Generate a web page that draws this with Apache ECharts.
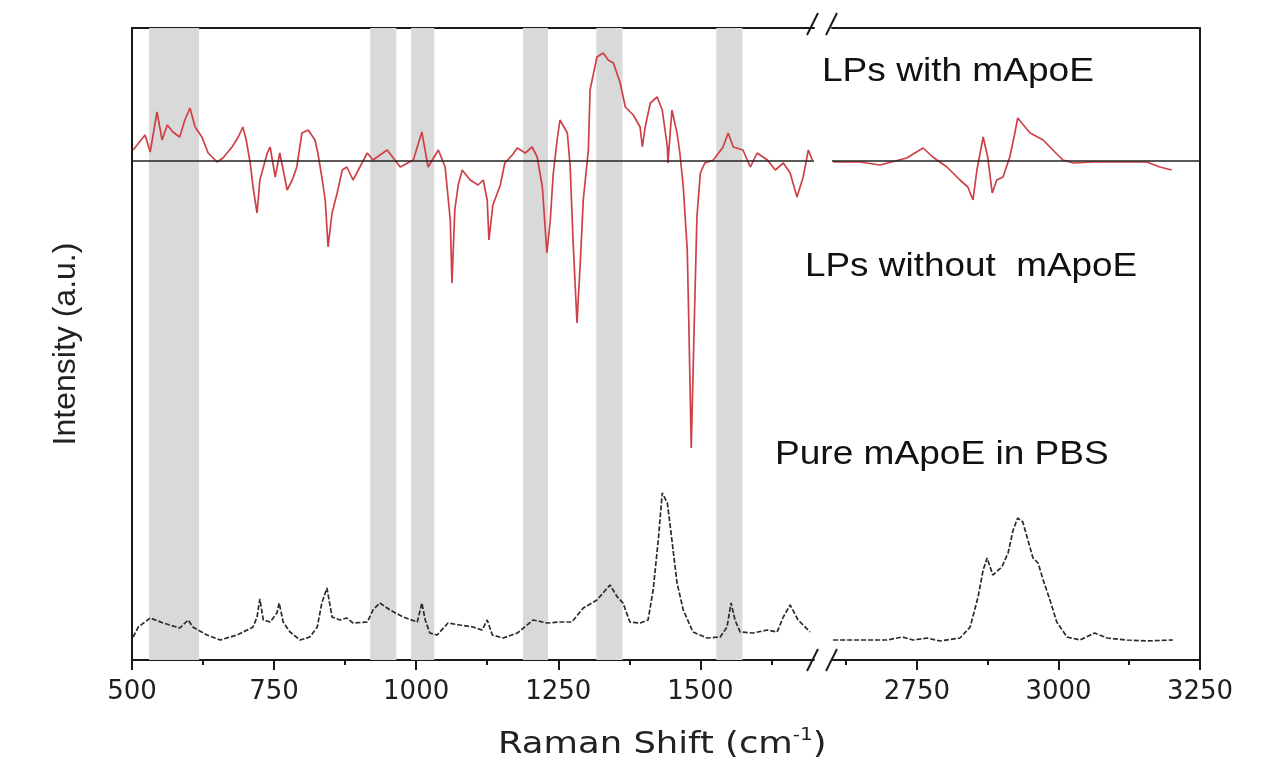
<!DOCTYPE html>
<html><head><meta charset="utf-8">
<script src="https://cdn.jsdelivr.net/npm/echarts@6/dist/echarts.min.js"></script>
<style>html,body{margin:0;padding:0;background:#fff}#c{width:1282px;height:766px}</style>
</head><body><div id="c"></div>
<script>
// ---- data: [Raman shift (cm-1), intensity (a.u.)] ----
// difference spectrum "LPs with mApoE" (relative to its zero line), low-wavenumber part
const lpsLow = [[502,2.2],[523,5.2],[532,1.8],[544,9.8],[553,4.2],[562,7.2],[572,5.8],[584,4.8],[593,8.2],[602,10.6],[611,6.8],[623,4.8],[634,1.6],[650,-0.2],[660,0.6],[676,2.8],[687,4.8],[695,6.8],[701,4.2],[708,-0.4],[713,-5.2],[720,-10.4],[725,-3.8],[738,1.6],[743,2.8],[752,-3.2],[760,1.6],[773,-5.8],[782,-3.8],[790,-1.2],[799,5.6],[810,6.2],[822,4.2],[827,1.6],[834,-3.2],[840,-7.8],[845,-17.2],[852,-10.4],[861,-6.4],[870,-1.8],[878,-1.2],[889,-3.8],[901,-1.2],[914,1.6],[924,0.2],[949,2.2],[972,-1.2],[995,0.2],[1010,5.8],[1021,-1.2],[1039,2.2],[1051,-1.2],[1060,-11.8],[1063,-24.4],[1068,-9.8],[1074,-4.8],[1081,-1.8],[1095,-3.8],[1109,-4.8],[1118,-3.8],[1125,-7.8],[1128,-15.8],[1135,-8.8],[1148,-4.8],[1156,-0.4],[1169,1.2],[1178,2.6],[1192,1.6],[1204,2.8],[1213,0.8],[1222,-5.2],[1230,-18.4],[1236,-11.8],[1241,-2.8],[1248,4.2],[1253,8.2],[1266,5.6],[1271,-1.2],[1276,-15.8],[1283,-32.4],[1289,-19.8],[1294,-7.8],[1303,2.2],[1306,14.2],[1318,20.8],[1329,21.6],[1338,20.2],[1347,19.6],[1359,15.6],[1368,10.8],[1382,9.2],[1394,6.8],[1398,2.8],[1403,6.8],[1412,11.6],[1424,12.8],[1433,10.2],[1442,2.8],[1443,-0.4],[1450,10.2],[1459,5.6],[1464,1.6],[1470,-5.2],[1477,-17.8],[1480,-33.8],[1484,-57.4],[1489,-33.8],[1494,-11.2],[1500,-2.4],[1508,-0.4],[1523,0.2],[1540,2.8],[1549,5.6],[1558,2.8],[1575,2.2],[1588,-1.2],[1600,1.6],[1618,0.2],[1632,-1.8],[1646,-0.4],[1658,-2.4],[1670,-7.2],[1681,-3.2],[1690,2.2],[1697,0.2]];
// same, high-wavenumber part
const lpsHigh = [[2602,-0.2],[2649,-0.2],[2685,-0.8],[2732,0.6],[2761,2.6],[2778,0.8],[2803,-1.2],[2826,-3.8],[2840,-5.2],[2849,-7.8],[2856,-1.8],[2867,4.8],[2875,0.8],[2883,-6.4],[2891,-3.8],[2902,-3.2],[2914,0.8],[2923,5.6],[2928,8.6],[2941,6.8],[2950,5.6],[2973,4.2],[2990,2.2],[3008,0.2],[3026,-0.4],[3061,-0.2],[3096,-0.2],[3156,-0.2],[3179,-1.2],[3200,-1.8]];
// "Pure mApoE in PBS" spectrum, low-wavenumber part
const pureLow = [[502,0.4],[511,2.4],[532,4.2],[555,3.2],[584,2.2],[599,3.8],[607,2.4],[632,0.8],[655,-0.2],[685,0.8],[713,2.4],[720,4.4],[725,8.0],[731,3.8],[743,3.4],[755,5.2],[759,7.2],[766,3.4],[778,1.4],[796,-0.2],[813,0.4],[826,2.4],[834,7.2],[843,10.2],[852,4.4],[866,3.8],[878,4.2],[889,3.2],[914,3.4],[924,5.8],[936,7.2],[954,5.8],[977,4.4],[1002,3.4],[1010,7.2],[1016,3.8],[1024,1.2],[1037,0.8],[1056,3.2],[1077,2.8],[1100,2.4],[1116,1.8],[1125,3.8],[1134,0.8],[1153,0.2],[1178,1.2],[1206,3.8],[1230,3.2],[1253,3.4],[1274,3.4],[1294,6.2],[1318,7.8],[1341,10.8],[1354,8.4],[1364,7.2],[1376,3.4],[1394,3.2],[1408,3.8],[1417,9.8],[1426,19.8],[1433,29.2],[1442,27.2],[1450,19.8],[1459,11.2],[1470,5.8],[1487,1.4],[1512,0.2],[1535,0.4],[1547,2.4],[1554,7.2],[1561,3.8],[1570,1.4],[1593,1.2],[1618,1.8],[1635,1.4],[1646,4.4],[1658,6.8],[1672,3.8],[1693,1.4]];
// same, high-wavenumber part
const pureHigh = [[2602,-0.2],[2697,-0.2],[2724,0.4],[2743,-0.2],[2768,0.2],[2791,-0.4],[2826,0.2],[2844,2.4],[2858,8.4],[2867,13.8],[2874,16.2],[2884,12.8],[2900,14.4],[2911,17.2],[2920,21.8],[2928,24.2],[2937,23.4],[2946,19.8],[2955,16.2],[2964,15.2],[2973,11.8],[2985,7.8],[2997,3.4],[3015,0.4],[3038,-0.2],[3064,1.2],[3086,0.2],[3121,-0.2],[3156,-0.4],[3202,-0.2]];
// shaded bands (cm-1)
const bands = [[530,618],[919,965],[991,1032],[1188,1232],[1317,1363],[1528,1574]];
// axis ticks
const lowTicks = [500,750,1000,1250,1500];
const lowMinor = [625,875,1125,1375,1625];
const highTicks = [2750,3000,3250];
const highMinor = [2625,2875,3125];
const spectrumNames = ['LPs with mApoE','LPs without  mApoE','Pure mApoE in PBS'];

// ---- layout / style ----
const lowRange = [500,1700], highRange = [2600,3250];
const yRange = [0,126.4];
const lpsOffset = 99.8, pureOffset = 4.2;
const RED = '#cf4046', BLACK = '#2b2b2b', AXIS = '#1a1a1a';
const tickFont = {fontFamily:'DejaVu Sans', fontSize:26, color:'#1e1e1e'};

const shift = (arr, off) => arr.map(p => [p[0], p[1] + off]);

const chart = echarts.init(document.getElementById('c'), null, {renderer:'canvas'});

function mainAxis(grid, range, ticks) {
  return {type:'value', gridIndex:grid, position:'bottom', min:range[0], max:range[1],
    axisLine:{show:true, onZero:false, lineStyle:{color:AXIS, width:2}},
    axisTick:{show:true, customValues:ticks, length:10, inside:false, lineStyle:{color:AXIS, width:2}},
    axisLabel:{show:true, customValues:ticks, margin:19, formatter:(v) => String(v), ...tickFont},
    splitLine:{show:false}};
}
function minorAxis(grid, range, ticks) {
  return {type:'value', gridIndex:grid, position:'bottom', min:range[0], max:range[1],
    axisLine:{show:false, onZero:false},
    axisTick:{show:true, customValues:ticks, length:5, lineStyle:{color:AXIS, width:2}},
    axisLabel:{show:false}, splitLine:{show:false}};
}
function topAxis(grid, range) {
  return {type:'value', gridIndex:grid, position:'top', min:range[0], max:range[1],
    axisLine:{show:true, onZero:false, lineStyle:{color:AXIS, width:2}},
    axisTick:{show:false}, axisLabel:{show:false}, splitLine:{show:false}};
}
const baseLine = {silent:true, symbol:'none', label:{show:false},
  lineStyle:{color:'#222', width:1.5, type:'solid'}, data:[{yAxis:lpsOffset}]};

const option = {
  animation:false,
  backgroundColor:'#fff',
  grid:[
    {left:132, top:28, width:682, height:632},
    {left:832, top:28, width:368, height:632}
  ],
  xAxis:[
    mainAxis(0, lowRange, lowTicks), minorAxis(0, lowRange, lowMinor), topAxis(0, lowRange),
    mainAxis(1, highRange, highTicks), minorAxis(1, highRange, highMinor), topAxis(1, highRange)
  ],
  yAxis:[
    {type:'value', gridIndex:0, min:yRange[0], max:yRange[1], position:'left',
     name:'Intensity (a.u.)', nameLocation:'middle', nameRotate:90, nameGap:50,
     nameTextStyle:{fontFamily:'Liberation Sans', fontSize:32, color:'#222'},
     axisLine:{show:true, onZero:false, lineStyle:{color:AXIS, width:2}},
     axisTick:{show:false}, axisLabel:{show:false}, splitLine:{show:false}},
    {type:'value', gridIndex:1, min:yRange[0], max:yRange[1], position:'right',
     axisLine:{show:true, onZero:false, lineStyle:{color:AXIS, width:2}},
     axisTick:{show:false}, axisLabel:{show:false}, splitLine:{show:false}}
  ],
  series:[
    {name:spectrumNames[2], type:'line', xAxisIndex:0, yAxisIndex:0, z:2, symbol:'none',
     data:shift(pureLow, pureOffset), lineStyle:{color:BLACK, width:1.7, type:[5,2]},
     markArea:{silent:true, itemStyle:{color:'#d9d9d9', opacity:1},
       data:bands.map(b => [{xAxis:b[0]},{xAxis:b[1]}])}},
    {name:spectrumNames[0], type:'line', xAxisIndex:0, yAxisIndex:0, z:3, symbol:'none',
     data:shift(lpsLow, lpsOffset), lineStyle:{color:RED, width:1.7}, markLine:baseLine},
    {name:spectrumNames[2]+' ', type:'line', xAxisIndex:3, yAxisIndex:1, z:2, symbol:'none',
     data:shift(pureHigh, pureOffset), lineStyle:{color:BLACK, width:1.7, type:[5,2]}},
    {name:spectrumNames[0]+' ', type:'line', xAxisIndex:3, yAxisIndex:1, z:3, symbol:'none',
     data:shift(lpsHigh, lpsOffset), lineStyle:{color:RED, width:1.7}, markLine:baseLine}
  ]
};
chart.setOption(option);

// annotations, axis title and axis-break marks
const xL = chart.convertToPixel({xAxisIndex:0}, lowRange[1]);
const xR = chart.convertToPixel({xAxisIndex:3}, highRange[0]);
const yTop = chart.convertToPixel({yAxisIndex:0}, yRange[1]);
const yBot = chart.convertToPixel({yAxisIndex:0}, yRange[0]);
function slashes(yc, dy) {
  const s = {stroke:AXIS, lineWidth:2};
  return [
    {type:'line', silent:true, shape:{x1:xL-7, y1:yc+11+dy, x2:xL+4, y2:yc-11+dy}, style:s, z:100},
    {type:'line', silent:true, shape:{x1:xR-6, y1:yc+11+dy, x2:xR+5, y2:yc-11+dy}, style:s, z:100}
  ];
}
const annFont = '34px "Liberation Sans"';
const graphic = [
  {type:'text', x:822, y:72, scaleX:1.09, z:100, style:{text:spectrumNames[0], font:annFont, fill:'#111', verticalAlign:'middle', align:'left'}},
  {type:'text', x:805, y:267, scaleX:1.085, z:100, style:{text:spectrumNames[1], font:annFont, fill:'#111', verticalAlign:'middle', align:'left'}},
  {type:'text', x:775, y:455, scaleX:1.09, z:100, style:{text:spectrumNames[2], font:annFont, fill:'#111', verticalAlign:'middle', align:'left'}},
  {type:'text', x:498, y:745, scaleX:1.18, z:100, style:{
    text:'{a|Raman Shift (cm}{s|-1}{a|)}', fill:'#222', verticalAlign:'middle', align:'left',
    rich:{a:{fontFamily:'DejaVu Sans', fontSize:30, lineHeight:36, fill:'#222'},
          s:{fontFamily:'DejaVu Sans', fontSize:17, lineHeight:17, verticalAlign:'top', fill:'#222'}}}},
  ...slashes(yTop, -4),
  ...slashes(yBot, 0)
];
chart.setOption({graphic:graphic});
</script></body></html>
